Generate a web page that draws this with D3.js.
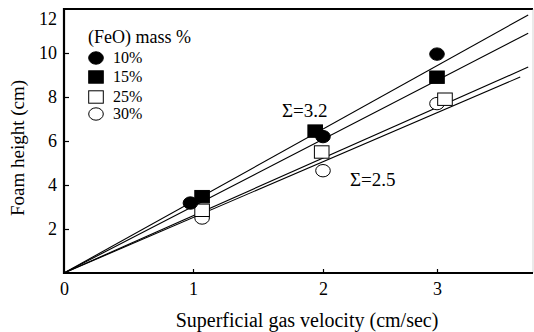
<!DOCTYPE html>
<html>
<head>
<meta charset="utf-8">
<script src="https://cdn.jsdelivr.net/npm/d3@7"></script>
<style>
  body { margin: 0; background: #fff; }
  svg text { font-family: "Liberation Serif", "Times New Roman", "DejaVu Serif", serif !important; }
</style>
</head>
<body>
<div id="chart"></div>
<script>
// FeO content series
const series = ["10%", "15%", "25%", "30%"];
const filled = [true, true, false, false];
const shapes = ["circle", "square", "square", "circle"];

// measured points (velocity cm/sec, foam height cm)
const vel10 = [0.98, 2.0, 3.0];
const foam10 = [3.18, 6.2, 9.95];
const vel15 = [1.07, 1.94, 3.0];
const foam15 = [3.47, 6.45, 8.9];
const vel25 = [1.07, 1.99, 3.07];
const foam25 = [2.85, 5.5, 7.9];
const vel30 = [1.07, 2.0, 3.0];
const foam30 = [2.5, 4.65, 7.7];

// fitted lines through origin, end point of each
const lineEndX = [3.8, 3.8, 3.8, 3.73];
const lineEndY = [11.73, 10.9, 9.36, 8.91];

const xTicks = [0, 1, 2, 3];
const yTicks = [2, 4, 6, 8, 10, 12];

const notes = [
  {text: "\u03A3=3.2", x: 282, y: 117},
  {text: "\u03A3=2.5", x: 350, y: 186}
];

const width = 534, height = 332;
const plotLeft = 64, plotRight = 533, plotTop = 9, plotBottom = 273;

// scanned axis is not quite even, so the scale follows the tick marks
const x = d3.scaleLinear().domain([0, 1, 2, 3]).range([64, 193, 323, 437]);
const y = d3.scaleLinear().domain([0, 12]).range([plotBottom, plotTop]);

const svg = d3.select("#chart").append("svg")
  .attr("width", width)
  .attr("height", height)
  .style("display", "block");

svg.append("rect").attr("width", width).attr("height", height).attr("fill", "#fff");

// fitted lines
const lines = lineEndX.map((ex, i) => [[0, 0], [ex, lineEndY[i]]]);
svg.append("g")
  .selectAll("path")
  .data(lines)
  .join("path")
  .attr("fill", "none")
  .attr("stroke", "#000")
  .attr("stroke-width", 1.1)
  .attr("d", d3.line().x(d => x(d[0])).y(d => y(d[1])));

// frame
const frame = svg.append("g").attr("stroke", "#000");
frame.append("line").attr("x1", plotLeft).attr("x2", plotRight).attr("y1", plotTop).attr("y2", plotTop).attr("stroke-width", 2);
frame.append("line").attr("x1", plotRight).attr("x2", plotRight).attr("y1", plotTop).attr("y2", plotBottom).attr("stroke-width", 0.6).attr("stroke", "#bbb");

// axes
const xAxis = svg.append("g")
  .attr("transform", `translate(0,${plotBottom})`)
  .call(d3.axisBottom(x).tickValues(xTicks).tickSizeInner(-4).tickSizeOuter(0).tickPadding(9).tickFormat(d3.format("d")));
xAxis.select(".domain").remove();
xAxis.selectAll(".tick line").filter(d => d === 0).remove();

const yAxis = svg.append("g")
  .attr("transform", `translate(${plotLeft},0)`)
  .call(d3.axisLeft(y).tickValues(yTicks).tickSizeInner(-5).tickSizeOuter(0).tickPadding(7).tickFormat(d3.format("d")));
yAxis.select(".domain").remove();
yAxis.selectAll(".tick line").filter(d => d === 12).remove();
yAxis.selectAll(".tick text").filter(d => d === 12).attr("dy", "0.85em");

svg.selectAll(".tick text")
  .attr("font-size", 18)
  .attr("fill", "#000");
svg.selectAll(".tick line").attr("stroke", "#000").attr("stroke-width", 1.2);

frame.append("line").attr("x1", plotLeft).attr("x2", plotLeft).attr("y1", plotTop - 1).attr("y2", plotBottom + 1).attr("stroke-width", 2.2);
frame.append("line").attr("x1", plotLeft - 1).attr("x2", plotRight).attr("y1", plotBottom).attr("y2", plotBottom).attr("stroke-width", 2.2);

// markers
function drawMarker(g, shape, isFilled) {
  if (shape === "circle") {
    g.append("ellipse").attr("rx", 7.3).attr("ry", 6.2);
  } else {
    g.append("rect").attr("x", -7.3).attr("y", -6.2).attr("width", 14.6).attr("height", 12.4);
  }
  g.selectAll("ellipse, rect")
    .attr("fill", isFilled ? "#000" : "#fff")
    .attr("stroke", "#000")
    .attr("stroke-width", 1);
}

const points = [
  vel10.map((v, j) => [v, foam10[j]]),
  vel15.map((v, j) => [v, foam15[j]]),
  vel25.map((v, j) => [v, foam25[j]]),
  vel30.map((v, j) => [v, foam30[j]])
];

// draw open ones first so filled ones stay on top like the scan
[3, 2, 1, 0].forEach(i => {
  svg.append("g")
    .selectAll("g")
    .data(points[i])
    .join("g")
    .attr("transform", d => `translate(${x(d[0])},${y(d[1])})`)
    .each(function () { drawMarker(d3.select(this), shapes[i], filled[i]); });
});

// legend
const legend = svg.append("g");
legend.append("text")
  .attr("x", 88).attr("y", 43)
  .attr("font-size", 18)
  .text("(FeO) mass %");
const legendY = [58, 77, 97, 114];
series.forEach((s, i) => {
  const g = legend.append("g").attr("transform", `translate(96,${legendY[i]})`);
  drawMarker(g, shapes[i], filled[i]);
  legend.append("text")
    .attr("x", 113).attr("y", legendY[i] + 5)
    .attr("font-size", 16)
    .text(s);
});

// annotations
svg.append("g")
  .selectAll("text")
  .data(notes)
  .join("text")
  .attr("x", d => d.x).attr("y", d => d.y)
  .attr("font-size", 19)
  .text(d => d.text);

// axis titles
svg.append("text")
  .attr("x", 307).attr("y", 327)
  .attr("text-anchor", "middle")
  .attr("font-size", 20)
  .text("Superficial gas velocity (cm/sec)");

svg.append("text")
  .attr("transform", "translate(24,148) rotate(-90)")
  .attr("text-anchor", "middle")
  .attr("font-size", 19)
  .text("Foam height (cm)");
</script>
</body>
</html>
